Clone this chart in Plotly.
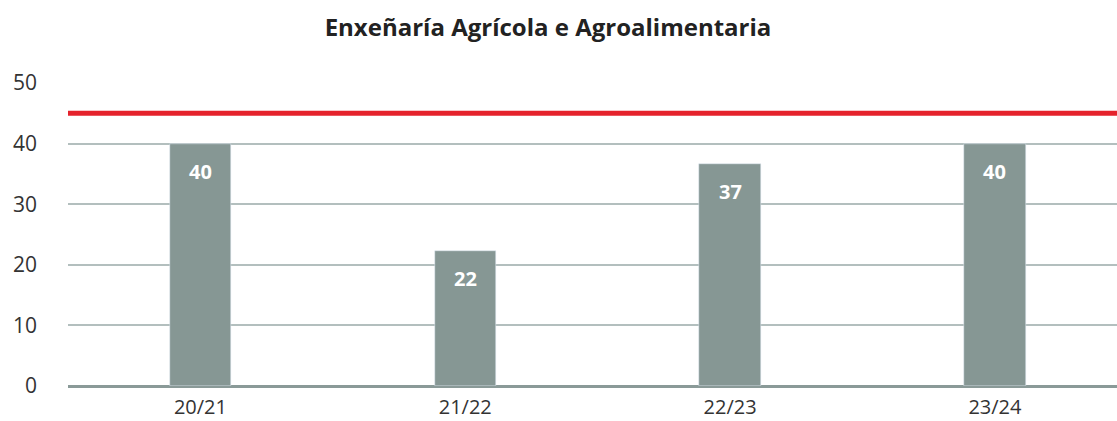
import plotly.graph_objects as go

categories = ["20/21", "21/22", "22/23", "23/24"]
values = [40, 22.3, 36.7, 40]
labels = ["40", "22", "37", "40"]
reference_value = 45
title = "Enxeñaría Agrícola e Agroalimentaria"

bar_color = "#869794"
red = "#e5222c"
font_family = "Open Sans, Noto Sans, sans-serif"

fig = go.Figure()
fig.add_trace(go.Bar(
    x=categories, y=values, marker_color=bar_color, width=0.231,
    hoverinfo="skip",
))

for c, v, t in zip(categories, values, labels):
    fig.add_annotation(x=c, y=v, text=f"<b>{t}</b>", showarrow=False,
                       yshift=-28, font=dict(family=font_family, size=20, color="white"))

fig.add_shape(type="line", xref="paper", yref="y", x0=0, x1=1,
              y0=reference_value, y1=reference_value,
              line=dict(color=red, width=5))

fig.update_layout(
    width=1117, height=421,
    margin=dict(l=68, r=0, t=83, b=35),
    plot_bgcolor="white", paper_bgcolor="white",
    showlegend=False,
    bargap=0,
    title=dict(text=f"<b>{title}</b>", x=548/1117, xanchor="center", y=1-28/421, yanchor="middle",
               font=dict(family=font_family, size=24, color="#222222")),
    font=dict(family=font_family, color="#333333"),
)
fig.update_xaxes(range=[-0.5, 3.461], showgrid=False, showline=False, ticks="",
                 automargin=False,
                 tickfont=dict(size=20, color="#333333"), ticklabelstandoff=7)
fig.update_yaxes(range=[0, 50], tickvals=[0, 10, 20, 30, 40, 50], showgrid=True,
                 automargin=False,
                 gridcolor="#b3bfbe", gridwidth=1.5, zeroline=True, zerolinecolor="#8a9a98",
                 zerolinewidth=3, showline=False, ticks="",
                 tickfont=dict(size=21, color="#333333"), ticklabelstandoff=30)

fig.write_html("out.html", config={"displayModeBar": False},
               post_script="document.body.style.margin='0';document.body.style.overflow='hidden';")
